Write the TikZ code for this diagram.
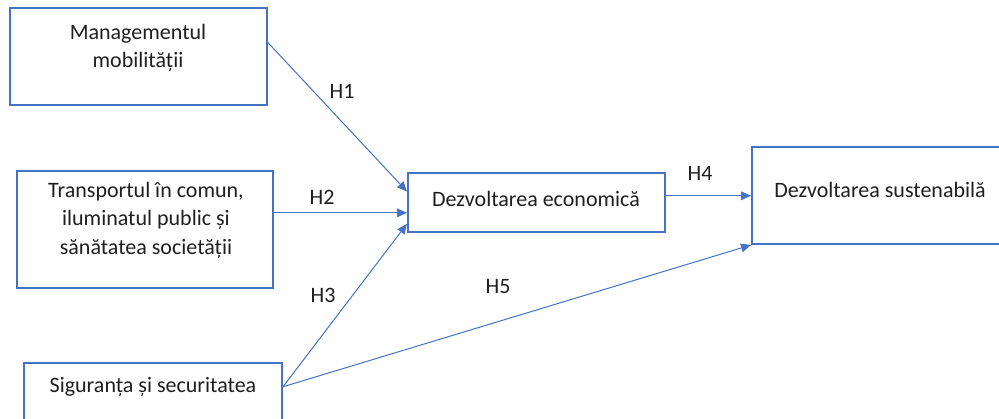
\documentclass[tikz,border=0pt]{standalone}
\usepackage{fontspec}
\setmainfont{Carlito}
\usetikzlibrary{arrows.meta,fit,calc}
\definecolor{officeblue}{HTML}{4472C4}
\tikzset{
  box/.style={draw=officeblue, line width=1.5pt, inner sep=0pt},
  boxlabel/.style={font=\fontsize{16.5}{21.4}\selectfont, align=center, text=black!88},
  link/.style={draw=officeblue, line width=0.75pt, -{Triangle[length=7.5pt,width=6.5pt]}},
  hyp/.style={font=\fontsize{16.5}{21.4}\selectfont, text=black!88},
}

\begin{document}
\begin{tikzpicture}[x=0.75pt,y=-0.75pt]
\useasboundingbox (0,0) rectangle (999,418);
% constructs
\node[box, fit={(10,8) (267,105)}] (mob) {};
\node[boxlabel] (mobtext) at (138,48) {Managementul\\mobilității};
\node[box, fit={(17,171) (273,288)}] (tra) {};
\node[boxlabel] (tratext) at (146,220) {Transportul în comun,\\iluminatul public și\\sănătatea societății};
\node[box, fit={(24,363) (282,425)}] (saf) {};
\node[boxlabel] (saftext) at (153,387) {Siguranța și securitatea};
\node[box, fit={(408,173) (665,232)}] (eco) {};
\node[boxlabel] (ecotext) at (536,199) {Dezvoltarea economică};
\node[box, fit={(752,147) (1008,244)}] (sus) {};
\node[boxlabel] (sustext) at (880,190) {Dezvoltarea sustenabilă};
% hypotheses
\coordinate (trastart) at ($(tra.north east)!.36!(tra.south east)$);
\coordinate (ecostart) at ($(eco.north east)!.39!(eco.south east)$);
\draw[link] ($(mob.north east)!.36!(mob.south east)$) -- ($(eco.north west)!.32!(eco.south west)$);
\draw[link] (trastart) -- (eco.west |- trastart);
\draw[link] ($(saf.north east)!.387!(saf.south east)$) -- ($(eco.north west)!.85!(eco.south west)$);
\draw[link] (ecostart) -- (sus.west |- ecostart);
\draw[link] ($(saf.north east)!.387!(saf.south east)$) -- (sus.south west);
\node[hyp] (h1) at (342,91) {H1};
\node[hyp] (h2) at (322,197) {H2};
\node[hyp] (h3) at (323,295) {H3};
\node[hyp] (h4) at (700,173) {H4};
\node[hyp] (h5) at (498,287) {H5};
\end{tikzpicture}
\end{document}
